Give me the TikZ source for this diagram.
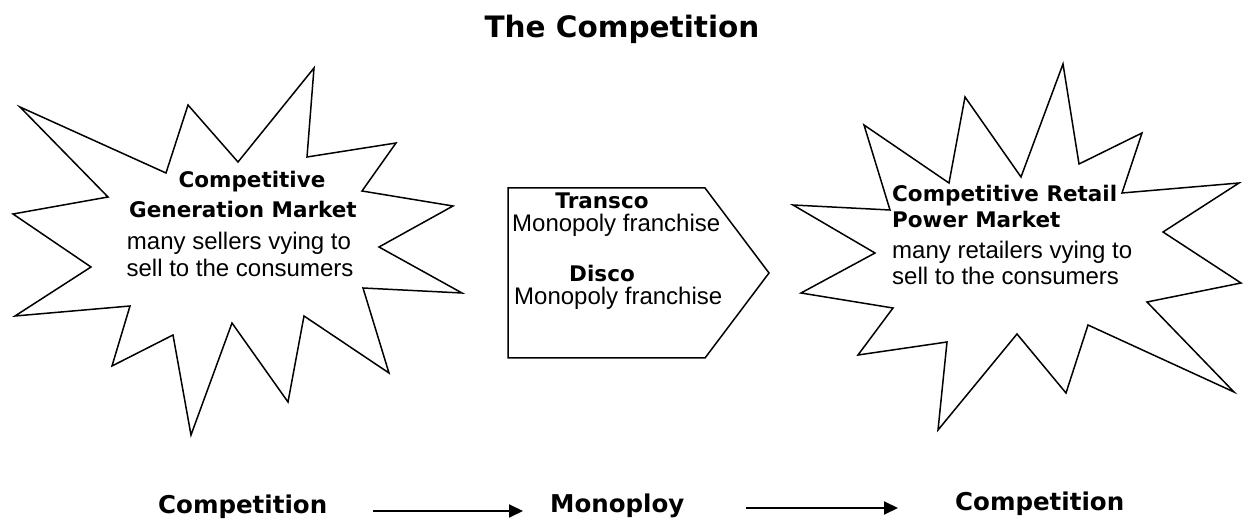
\documentclass[tikz,border=0pt]{standalone}
\usepackage{fontspec}
\setmainfont{Liberation Sans}
\newfontfamily\heavy{DejaVu Sans}
\usetikzlibrary{arrows.meta}

\tikzset{
  outline/.style={draw=black, line width=1.5pt, line join=miter},
  plaintext/.style={inner sep=0pt, font=\fontsize{24}{28}\selectfont},
  boldtext/.style={inner sep=0pt, font=\fontsize{21.5}{26}\selectfont\heavy\bfseries},
  bigtext/.style={inner sep=0pt, font=\fontsize{24.5}{29}\selectfont\heavy\bfseries},
  flowline/.style={draw=black, line width=2pt, -{Triangle[length=14pt, width=13pt]}},
}

\begin{document}
\begin{tikzpicture}[x=1pt, y=-1pt]
\useasboundingbox (0,0) rectangle (1243,521);
\fill[white] (0,0) rectangle (1243,521);

% title
\node[inner sep=0pt, anchor=base, font=\fontsize{29.5}{34}\selectfont\heavy\bfseries] (title) at (622,38) {The Competition};

% generation market burst
\draw[outline] (20,107) -- (166,173) -- (188,105) -- (238,162) -- (314,68)
  -- (307,157) -- (396,143) -- (362,191) -- (453,206) -- (379,247)
  -- (462,293) -- (363,288) -- (389,373) -- (304,316) -- (288,402)
  -- (232,323) -- (191,435) -- (173,335) -- (112,366) -- (130,306)
  -- (15,316) -- (91,267) -- (13,214) -- (108,197) -- cycle;
\node[boldtext, anchor=base] (gen1) at (252,188) {Competitive};
\node[boldtext, anchor=base] (gen2) at (243,218) {Generation Market};
\node[plaintext, anchor=base] (gen3) at (239,250) {many sellers vying to};
\node[plaintext, anchor=base] (gen4) at (240,277) {sell to the consumers};

% monopoly wires block
\draw[outline] (508,188) -- (705,188) -- (769,273) -- (705,358) -- (508,358) -- cycle;
\node[boldtext, anchor=base] (tr1) at (602,209) {Transco};
\node[plaintext, anchor=base west] (tr2) at (512,232) {Monopoly franchise};
\node[boldtext, anchor=base] (di1) at (602,282) {Disco};
\node[plaintext, anchor=base west] (di2) at (514,305) {Monopoly franchise};

% retail market burst
\draw[outline] (1063,64) -- (1079,164) -- (1142,133) -- (1122,193) -- (1239,183)
  -- (1163,232) -- (1241,283) -- (1147,302) -- (1234,392) -- (1088,325)
  -- (1066,393) -- (1017,334) -- (938,430) -- (947,342) -- (858,355)
  -- (893,308) -- (801,293) -- (875,253) -- (793,205) -- (890,210)
  -- (864,125) -- (949,183) -- (965,97) -- (1021,177) -- cycle;
\node[boldtext, anchor=base west] (ret1) at (892,202) {Competitive Retail};
\node[boldtext, anchor=base west] (ret2) at (892,228) {Power Market};
\node[plaintext, anchor=base west] (ret3) at (892,259) {many retailers vying to};
\node[plaintext, anchor=base west] (ret4) at (892,285) {sell to the consumers};

% bottom sequence
\node[bigtext, anchor=base west] (c1) at (158,513) {Competition};
\node[bigtext, anchor=base west] (mo) at (550,512) {Monoploy};
\node[bigtext, anchor=base west] (c2) at (955,510) {Competition};

\draw[flowline, shorten <=46pt, shorten >=27pt]
  ([yshift=2pt]c1.base east) -- ([yshift=1pt]mo.base west);
\draw[flowline, shorten <=61pt, shorten >=57pt]
  ([yshift=4pt]mo.base east) -- ([yshift=2pt]c2.base west);
\end{tikzpicture}
\end{document}
